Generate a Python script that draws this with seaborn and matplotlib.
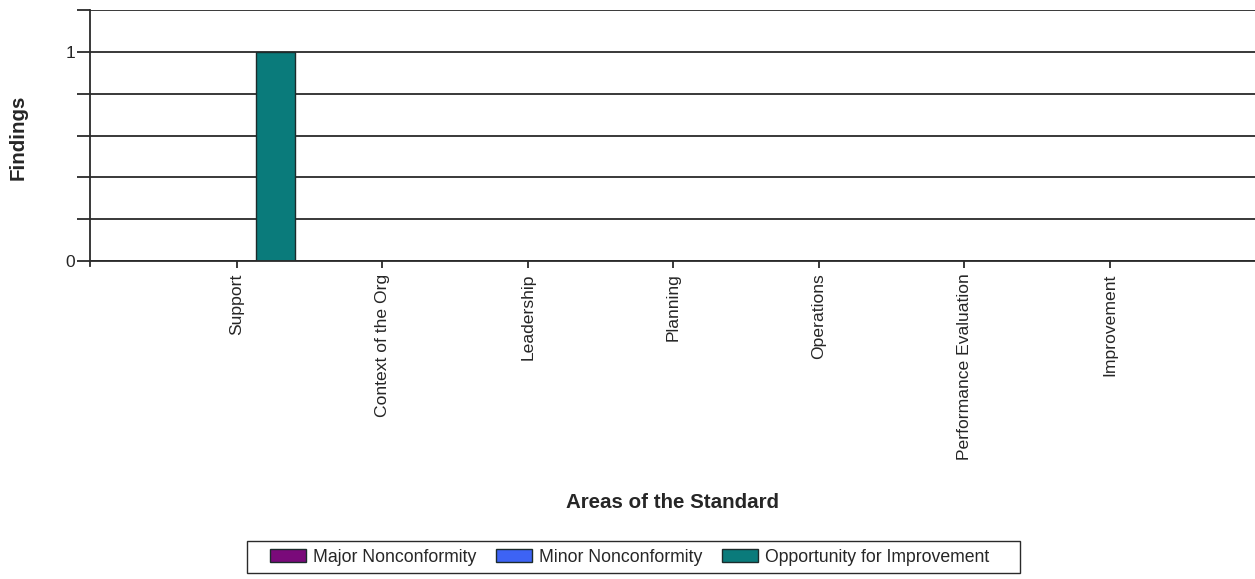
import matplotlib
matplotlib.use("Agg")
import matplotlib.pyplot as plt
from matplotlib.patches import Rectangle
import numpy as np
import pandas as pd
import seaborn as sns

# Findings per area of the standard, by finding type
areas = ["Support", "Context of the Org", "Leadership", "Planning",
         "Operations", "Performance Evaluation", "Improvement"]
finding_types = ["Major Nonconformity", "Minor Nonconformity",
                 "Opportunity for Improvement"]
major_nc = [0, 0, 0, 0, 0, 0, 0]
minor_nc = [0, 0, 0, 0, 0, 0, 0]
ofi = [1, 0, 0, 0, 0, 0, 0]

y_ticks = [0, 0.2, 0.4, 0.6, 0.8, 1.0, 1.2]
y_tick_labels = ["0", "", "", "", "", "1", ""]

colors = ["#7a0a7a", "#3d63f5", "#0a7b7b"]

rows = []
for t, vals in zip(finding_types, [major_nc, minor_nc, ofi]):
    for a, v in zip(areas, vals):
        rows.append({"Area": a, "Findings": v, "Type": t})
df = pd.DataFrame(rows)

sns.set_theme(style="white")
plt.rcParams["font.family"] = ["Liberation Sans", "DejaVu Sans"]
text_color = "#262626"
line_color = "#2a2a2a"

W, H = 1255, 579
fig = plt.figure(figsize=(W / 100, H / 100), dpi=100)
ax = fig.add_axes([90 / W, 1 - 261 / H, 1 - 90 / W, (261 - 10) / H])

sns.barplot(data=df, x="Area", y="Findings", hue="Type", order=areas,
            hue_order=finding_types, palette=colors, width=0.8,
            edgecolor="#1c2b2b", linewidth=1.0, saturation=1, ax=ax)

handles, labels = ax.get_legend_handles_labels()
if ax.get_legend() is not None:
    ax.get_legend().remove()

ax.set_xlim(-1.01, 7.0)
ax.set_ylim(0, 1.2)
ax.set_yticks(y_ticks)
ax.set_yticklabels(y_tick_labels)
ax.set_axisbelow(True)
ax.yaxis.grid(True, color=line_color, linewidth=1.3)
ax.xaxis.grid(False)

for side in ["right", "top"]:
    ax.spines[side].set_visible(False)
for side in ["left", "bottom"]:
    ax.spines[side].set_color(line_color)
    ax.spines[side].set_linewidth(1.3)
ax.spines["left"].set_bounds(-0.025, 1.2)

ax.tick_params(axis="y", length=9.5, width=1.3, color=line_color,
               labelsize=12.5, labelcolor=text_color, pad=1, left=True)
ax.tick_params(axis="x", length=5, width=1.3, color=line_color,
               labelsize=12.6, labelcolor=text_color, pad=4, bottom=True)
plt.setp(ax.get_xticklabels(), rotation=90)

ax.set_xlabel("")
ax.set_ylabel("")
fig.text(18 / W, 1 - 137 / H, "Findings", rotation=90, ha="center",
         va="center", fontsize=14.8, fontweight="bold", color=text_color)
fig.text(672 / W, 1 - 503 / H, "Areas of the Standard", ha="center",
         va="center", fontsize=14.8, fontweight="bold", color=text_color)

# legend entries, with a wider box drawn around them
leg = fig.legend(handles, labels, loc="center", ncol=3,
                 bbox_to_anchor=(630 / W, 1 - 557 / H),
                 fontsize=12.7, frameon=False,
                 handlelength=2.05, handleheight=0.7, columnspacing=1.1,
                 handletextpad=0.4, borderpad=0.4, labelcolor=text_color)
for h in leg.legend_handles:
    h.set_edgecolor("#1c2b2b")
    h.set_linewidth(1.0)
fig.patches.append(Rectangle((247 / W, 1 - 573 / H), (1020 - 247) / W,
                             (573 - 541) / H, transform=fig.transFigure,
                             fill=False, edgecolor=line_color, linewidth=1.0))

fig.savefig("out.png", dpi=100, facecolor="white")
